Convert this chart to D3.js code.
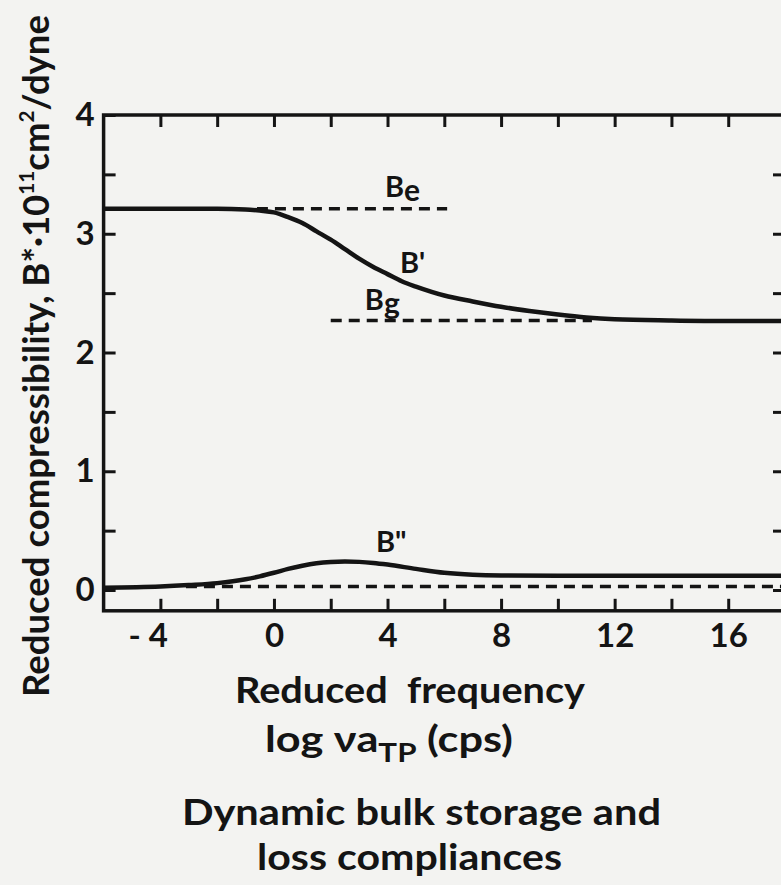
<!DOCTYPE html>
<html>
<head>
<meta charset="utf-8">
<script src="https://cdn.jsdelivr.net/npm/d3@7"></script>
<style>
body { margin: 0; background: #f3f3f1; }
text { font-family: Lato, "DejaVu Sans", sans-serif; font-weight: 700; fill: #141414; }
</style>
</head>
<body>
<div id="chart"></div>
<script>

//////////////////////////////////////////////////////////////////////////////
// Data

// storage compliance B' (log reduced frequency, compressibility)
var storageX = [-6, -2, -1, -0.5, 0, 0.5, 1, 1.5, 2, 2.5, 3, 3.5, 4, 4.5, 5, 6, 7, 8, 9, 10, 11, 12, 14, 16, 18];
var storageY = [3.21, 3.21, 3.205, 3.195, 3.18, 3.14, 3.09, 3.02, 2.95, 2.87, 2.79, 2.72, 2.66, 2.6, 2.555, 2.48, 2.43, 2.385, 2.35, 2.32, 2.295, 2.28, 2.27, 2.265, 2.265];

// loss compliance B''
var lossX = [-6, -4, -3, -2, -1, -0.5, 0, 0.5, 1, 1.5, 2, 2.5, 3, 3.5, 4, 5, 6, 7, 8, 10, 12, 14, 16, 18];
var lossY = [0.02, 0.03, 0.042, 0.058, 0.09, 0.115, 0.145, 0.178, 0.205, 0.225, 0.236, 0.24, 0.237, 0.228, 0.214, 0.178, 0.145, 0.128, 0.122, 0.12, 0.12, 0.12, 0.12, 0.12];

// dashed reference levels: [value, from, to]
var equilibriumLine = [3.21, -0.6, 6.1];   // Be
var glassLine = [2.27, 2.0, 11.2];         // Bg
var zeroLine = [0.03, -3.1, 18];

var xTicks = [-4, -2, 0, 2, 4, 6, 8, 10, 12, 14, 16];
var xTickLabels = [-4, 0, 4, 8, 12, 16];
var yTicks = [0, 0.5, 1, 1.5, 2, 2.5, 3, 3.5];
var yTickLabels = [0, 1, 2, 3, 4];

//////////////////////////////////////////////////////////////////////////////
// Scales, preliminaries

var width = 781, height = 885;

var xScale = d3.scaleLinear().domain([-6, 18]).range([103.6, 785]);
var yScale = d3.scaleLinear().domain([-0.175, 4]).range([610.8, 115]);

var svg = d3.select("#chart")
    .append("svg")
    .attr("width", width)
    .attr("height", height);

svg.append("rect")
    .attr("width", width)
    .attr("height", height)
    .attr("fill", "#f3f3f1");

function zipPoints(xs, ys) {
    return xs.map(function(x, i) { return [x, ys[i]]; });
}

var line = d3.line()
    .x(function(d) { return xScale(d[0]); })
    .y(function(d) { return yScale(d[1]); })
    .curve(d3.curveMonotoneX);

function styleAxis(g) {
    g.select(".domain").remove();
    g.selectAll(".tick line")
        .attr("stroke", "#141414")
        .attr("stroke-width", 3);
    g.selectAll(".tick text")
        .attr("font-size", 33);
}

//////////////////////////////////////////////////////////////////////////////
// Frame and ticks (all ticks point inward)

svg.append("rect")
    .attr("x", xScale(-6))
    .attr("y", yScale(4))
    .attr("width", xScale(18) - xScale(-6))
    .attr("height", yScale(-0.175) - yScale(4))
    .attr("fill", "none")
    .attr("stroke", "#141414")
    .attr("stroke-width", 3.5);

svg.append("g")
    .attr("transform", "translate(0," + yScale(-0.175) + ")")
    .call(d3.axisBottom(xScale)
        .tickValues(xTicks)
        .tickSize(-12)
        .tickPadding(13)
        .tickFormat(function(d) {
            if (xTickLabels.indexOf(d) < 0) return "";
            return d < 0 ? "- " + (-d) : String(d);
        }))
    .call(styleAxis)
    .selectAll(".tick text")
    .filter(function(d) { return d < 0; })
    .attr("text-anchor", "end")
    .attr("x", 7);

svg.append("g")
    .attr("transform", "translate(0," + yScale(4) + ")")
    .call(d3.axisTop(xScale).tickValues(xTicks).tickSize(-12).tickFormat(""))
    .call(styleAxis);

svg.append("g")
    .attr("transform", "translate(" + xScale(-6) + ",0)")
    .call(d3.axisLeft(yScale)
        .tickValues(yTicks.concat([4]))
        .tickSize(-12)
        .tickPadding(9)
        .tickFormat(function(d) { return yTickLabels.indexOf(d) < 0 ? "" : String(d); }))
    .call(styleAxis);

svg.append("g")
    .attr("transform", "translate(" + xScale(18) + ",0)")
    .call(d3.axisRight(yScale).tickValues(yTicks).tickSize(-12).tickFormat(""))
    .call(styleAxis);

//////////////////////////////////////////////////////////////////////////////
// Reference levels and curves

[equilibriumLine, glassLine, zeroLine].forEach(function(l) {
    svg.append("line")
        .attr("x1", xScale(l[1]))
        .attr("x2", xScale(l[2]))
        .attr("y1", yScale(l[0]))
        .attr("y2", yScale(l[0]))
        .attr("stroke", "#141414")
        .attr("stroke-width", 3.5)
        .attr("stroke-dasharray", "11,7");
});

svg.append("path")
    .datum(zipPoints(storageX, storageY))
    .attr("d", line)
    .attr("fill", "none")
    .attr("stroke", "#141414")
    .attr("stroke-width", 4.5);

svg.append("path")
    .datum(zipPoints(lossX, lossY))
    .attr("d", line)
    .attr("fill", "none")
    .attr("stroke", "#141414")
    .attr("stroke-width", 4.5);

// curve labels, placed in data coordinates
function curveLabel(x, y, main, sub) {
    var t = svg.append("text")
        .attr("x", xScale(x))
        .attr("y", yScale(y))
        .attr("font-size", 29)
        .text(main);
    if (sub) t.append("tspan").attr("dy", 4).attr("font-size", 30).text(sub);
}

curveLabel(3.91, 3.31, "B", "e");
curveLabel(4.44, 2.67, "B'");
curveLabel(3.2, 2.36, "B", "g");
curveLabel(3.59, 0.32, "B\"");

//////////////////////////////////////////////////////////////////////////////
// Axis titles and caption

function fitted(sel, len) {
    return sel.attr("textLength", len).attr("lengthAdjust", "spacingAndGlyphs");
}

var yTitle = svg.append("text")
    .attr("transform", "translate(49,697) rotate(-90)")
    .attr("font-size", 37)
    .call(fitted, 682)
    .text("Reduced compressibility, B*\u00b710");
yTitle.append("tspan").attr("font-size", 21).attr("dy", -15).text("11");
yTitle.append("tspan").attr("dy", 15).text("cm");
yTitle.append("tspan").attr("font-size", 21).attr("dy", -15).text("2");
yTitle.append("tspan").attr("dy", 15).text("/dyne");

svg.append("text")
    .attr("x", 235)
    .attr("y", 703)
    .attr("font-size", 36)
    .attr("xml:space", "preserve")
    .call(fitted, 350)
    .text("Reduced  frequency");

var xSub = svg.append("text")
    .attr("x", 265)
    .attr("y", 752)
    .attr("font-size", 36)
    .call(fitted, 248)
    .text("log \u03bda");
xSub.append("tspan").attr("font-size", 26).attr("dy", 10).text("TP");
xSub.append("tspan").attr("dy", -10).text(" (cps)");

svg.append("text")
    .attr("x", 182)
    .attr("y", 825)
    .attr("font-size", 36)
    .call(fitted, 479)
    .text("Dynamic bulk storage and");

svg.append("text")
    .attr("x", 257)
    .attr("y", 870)
    .attr("font-size", 36)
    .call(fitted, 305)
    .text("loss compliances");

</script>
</body>
</html>
